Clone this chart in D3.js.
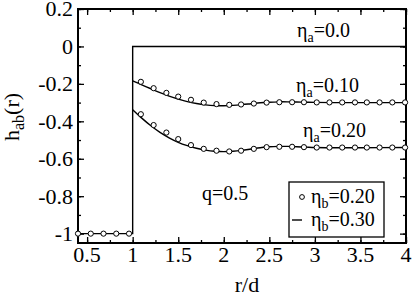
<!DOCTYPE html>
<html>
<head>
<meta charset="utf-8">
<script src="https://cdn.jsdelivr.net/npm/d3@7"></script>
<style>
  body { margin: 0; background: #fff; }
</style>
</head>
<body>
<script>
// step part (r < 1 is the hard core, h = -1)
var coreR = [0.40, 0.54, 0.68, 0.82, 0.96];
var coreH = [-1, -1, -1, -1, -1];

// symbols (eta_b = 0.20)
var symR = [1.09, 1.23, 1.37, 1.50, 1.64, 1.78, 1.92, 2.06, 2.19, 2.33, 2.47,
            2.61, 2.75, 2.88, 3.02, 3.16, 3.30, 3.44, 3.57, 3.71, 3.85, 3.99];
var sym10 = [-0.189, -0.223, -0.248, -0.268, -0.285, -0.300, -0.308, -0.312, -0.310, -0.305, -0.300,
             -0.298, -0.298, -0.298, -0.299, -0.299, -0.299, -0.299, -0.299, -0.299, -0.299, -0.299];
var sym20 = [-0.362, -0.420, -0.460, -0.495, -0.527, -0.547, -0.557, -0.561, -0.557, -0.547, -0.538,
             -0.536, -0.536, -0.538, -0.540, -0.540, -0.540, -0.540, -0.540, -0.540, -0.540, -0.540];

// lines (eta_b = 0.30)
var lineR = [1.0, 1.1, 1.2, 1.3, 1.4, 1.5, 1.6, 1.7, 1.8, 1.9, 2.0, 2.1, 2.2, 2.3, 2.4,
             2.5, 2.6, 2.7, 2.8, 2.9, 3.0, 3.2, 3.5, 4.0];
var line10 = [-0.184, -0.205, -0.226, -0.247, -0.265, -0.281, -0.295, -0.305, -0.312, -0.316,
              -0.317, -0.315, -0.311, -0.306, -0.301, -0.298, -0.296, -0.296, -0.297, -0.298,
              -0.299, -0.300, -0.300, -0.300];
var line20 = [-0.338, -0.383, -0.424, -0.459, -0.488, -0.512, -0.530, -0.544, -0.554, -0.560,
              -0.562, -0.560, -0.555, -0.548, -0.541, -0.536, -0.534, -0.534, -0.536, -0.538,
              -0.540, -0.541, -0.541, -0.540];
var line00R = [0.4, 1.0, 1.0, 4.0];
var line00 = [-1, -1, 0, 0];

var xTicks = [0.5, 1, 1.5, 2, 2.5, 3, 3.5, 4];
var yTicks = [0.2, 0, -0.2, -0.4, -0.6, -0.8, -1];

var W = 415, H = 295;
var mL = 78, mR = 406, mT = 9, mB = 243;
var FONT = "Times New Roman";

var svg = d3.select("body").append("svg")
  .attr("width", W).attr("height", H);

var x = d3.scaleLinear().domain([0.4, 4]).range([mL, mR]);
var y = d3.scaleLinear().domain([-1.05, 0.2]).range([mB, mT]);

var fmt = function(d) { return d === 0 ? "0" : String(d); };

// axes with inward ticks on all four sides
var xMinor = d3.range(0.5, 4.01, 0.25);
var yMinor = d3.range(-1, 0.21, 0.1);

function ticks(axis, tx, ty, vals, size) {
  svg.append("g").attr("transform", "translate(" + tx + "," + ty + ")")
    .call(axis.tickValues(vals).tickSize(size).tickFormat(""));
}
ticks(d3.axisTop(x), 0, mB, xMinor, 3);
ticks(d3.axisTop(x), 0, mB, xTicks, 6);
ticks(d3.axisBottom(x), 0, mT, xMinor, 3);
ticks(d3.axisBottom(x), 0, mT, xTicks, 6);
ticks(d3.axisRight(y), mL, 0, yMinor, 3);
ticks(d3.axisRight(y), mL, 0, yTicks, 6);
ticks(d3.axisLeft(y), mR, 0, yMinor, 3);
ticks(d3.axisLeft(y), mR, 0, yTicks, 6);

svg.selectAll(".domain").remove();
svg.selectAll(".tick line").attr("stroke", "#000").attr("stroke-width", 1.3);

svg.append("rect")
  .attr("x", mL).attr("y", mT)
  .attr("width", mR - mL).attr("height", mB - mT)
  .attr("fill", "none").attr("stroke", "#000").attr("stroke-width", 2);

// tick labels
svg.append("g").selectAll("text").data(xTicks).join("text")
  .attr("x", d => x(d)).attr("y", 262)
  .attr("text-anchor", "middle").attr("font-size", 22)
  .text(d => fmt(d));
svg.append("g").selectAll("text").data(yTicks).join("text")
  .attr("x", mL - 5).attr("y", d => y(d)).attr("dy", "0.34em")
  .attr("text-anchor", "end").attr("font-size", 22)
  .text(d => fmt(d));

// axis titles
svg.append("text").attr("x", 247).attr("y", 292)
  .attr("text-anchor", "middle").attr("font-size", 22).text("r/d");
var yl = svg.append("text")
  .attr("transform", "translate(19,117) rotate(-90)")
  .attr("text-anchor", "middle").attr("font-size", 22);
yl.append("tspan").text("h");
yl.append("tspan").attr("font-size", 16).attr("dy", 5).text("ab");
yl.append("tspan").attr("dy", -5).text("(r)");

// lines
var line = d3.line().x(d => x(d[0])).y(d => y(d[1]));
var curve = d3.line().x(d => x(d[0])).y(d => y(d[1])).curve(d3.curveCatmullRom);

svg.append("path").datum(d3.zip(line00R, line00))
  .attr("d", line).attr("fill", "none").attr("stroke", "#000").attr("stroke-width", 1.4);
[line10, line20].forEach(function(vals) {
  svg.append("path").datum(d3.zip(lineR, vals))
    .attr("d", curve).attr("fill", "none").attr("stroke", "#000").attr("stroke-width", 1.4);
});

// symbols
var pts = d3.zip(coreR, coreH).concat(d3.zip(symR, sym10), d3.zip(symR, sym20));
svg.append("g").selectAll("circle").data(pts).join("circle")
  .attr("cx", d => x(d[0])).attr("cy", d => y(d[1])).attr("r", 2.6)
  .attr("fill", "#fff").attr("stroke", "#000").attr("stroke-width", 1);

// annotations
function etaLabel(px, py, sub, val) {
  var t = svg.append("text").attr("x", px).attr("y", py).attr("font-size", 20);
  t.append("tspan").text("\u03b7");
  t.append("tspan").attr("font-size", 14).attr("dy", 5).text(sub);
  t.append("tspan").attr("dy", -5).text("=" + val);
}
etaLabel(297, 37, "a", "0.0");
etaLabel(296, 92, "a", "0.10");
etaLabel(303, 137, "a", "0.20");

svg.append("text").attr("x", 202).attr("y", 200).attr("font-size", 20).text("q=0.5");

// legend
svg.append("rect").attr("x", 289).attr("y", 182).attr("width", 95).attr("height", 55)
  .attr("fill", "#fff").attr("stroke", "#000").attr("stroke-width", 1.3);
svg.append("circle").attr("cx", 302).attr("cy", 197).attr("r", 2.4)
  .attr("fill", "#fff").attr("stroke", "#000").attr("stroke-width", 1);
svg.append("line").attr("x1", 292).attr("x2", 302).attr("y1", 220).attr("y2", 220)
  .attr("stroke", "#000").attr("stroke-width", 1.4);
etaLabel(311, 203, "b", "0.20");
etaLabel(311, 226, "b", "0.30");

svg.selectAll("text").attr("font-family", FONT).attr("fill", "#000");
</script>
</body>
</html>
